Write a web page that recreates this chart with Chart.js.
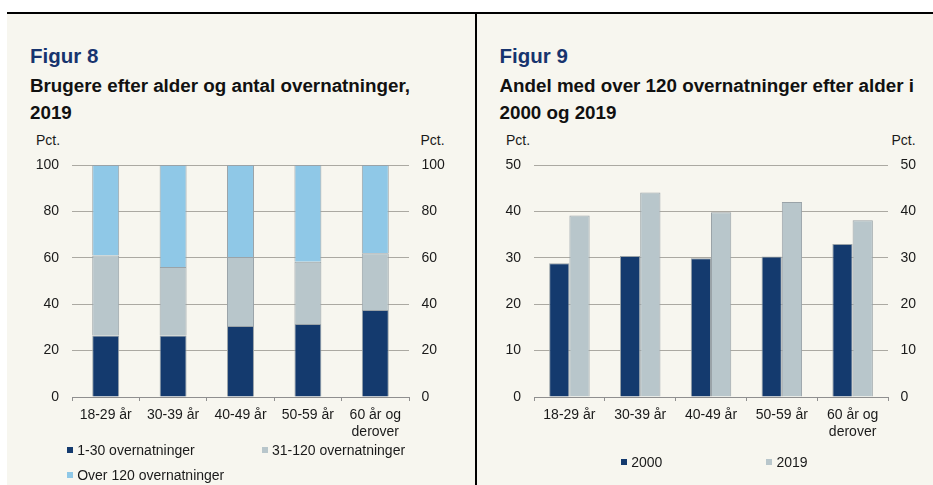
<!DOCTYPE html>
<html lang="da">
<head>
<meta charset="utf-8">
<title>Figur 8 og 9</title>
<script src="https://cdn.jsdelivr.net/npm/chart.js@4.4.1/dist/chart.umd.min.js"></script>
<style>
    body {
        margin: 0;
        width: 933px;
        height: 485px;
        position: relative;
        overflow: hidden;
        background: #ffffff;
        font-family: "Liberation Sans", Arial, sans-serif;
        color: #1a1a1a;
    }
    .panel { position: absolute; left: 7px; top: 14px; right: 0; bottom: 0; background: #f7f6ef; }
    .topline { position: absolute; left: 7px; top: 12px; right: 0; height: 2px; background: #000; }
    .divider { position: absolute; left: 475px; top: 12px; bottom: 0; width: 2px; background: #000; }
    .fig { position: absolute; top: 46px; font-size: 20.5px; line-height: 20px; font-weight: bold; color: #17346e; white-space: nowrap; }
    .title { position: absolute; top: 72.2px; font-size: 18.8px; line-height: 27px; font-weight: bold; color: #111; white-space: nowrap; }
    .unit { position: absolute; top: 133.2px; font-size: 14px; line-height: 14px; }
    .chartbox { position: absolute; top: 150px; width: 450px; height: 300px; }
    .legend-item { position: absolute; font-size: 14px; line-height: 16px; white-space: nowrap; }
    .legend-item span { position: absolute; width: 6px; height: 6px; }
</style>
</head>
<body>
<div class="panel"></div>
<div class="topline"></div>
<div class="divider"></div>

<div class="fig" style="left:30px">Figur 8</div>
<div class="title" style="left:30px">Brugere efter alder og antal overnatninger,<br>2019</div>
<div class="unit" style="left:36px">Pct.</div>
<div class="unit" style="left:420.5px">Pct.</div>
<div class="chartbox" style="left:20px"><canvas id="chart8"></canvas></div>

<div class="fig" style="left:499.5px">Figur 9</div>
<div class="title" style="left:499.5px">Andel med over 120 overnatninger efter alder i<br>2000 og 2019</div>
<div class="unit" style="left:506px">Pct.</div>
<div class="unit" style="left:891.5px">Pct.</div>
<div class="chartbox" style="left:480px"><canvas id="chart9"></canvas></div>

<div id="legends"></div>

<script>
// =======================
// Data
// =======================
const ageLabels = ["18-29 år", "30-39 år", "40-49 år", "50-59 år", ["60 år og", "derover"]];

// Figur 8 - share of users by number of nights, 2019
const nights1to30 = [26.5, 26.5, 30.6, 31.5, 37.5];
const nights31to120 = [34.5, 29.5, 29.7, 26.8, 24.5];
const nightsOver120 = [39.0, 44.0, 39.7, 41.7, 38.0];

// Figur 9 - share with more than 120 nights
const share2000 = [28.8, 30.4, 29.9, 30.3, 33.0];
const share2019 = [39.1, 44.1, 39.8, 42.0, 38.1];

const fig8Ticks = [0, 20, 40, 60, 80, 100];
const fig9Ticks = [0, 10, 20, 30, 40, 50];

const navy = "#143a6e";
const grey = "#b8c6cb";
const lightBlue = "#8fc8e7";
const gridColor = "#aba9a2";
const edgeColor = "#9aa3a8";

Chart.defaults.font.family = "'Liberation Sans', Arial, sans-serif";
Chart.defaults.font.size = 14;
Chart.defaults.color = "#1a1a1a";

// =======================
// Shared scale builder
// =======================
function buildScales(ticks, stacked, leftWidth, rightWidth) {
    const max = ticks[ticks.length - 1];
    const step = ticks[1] - ticks[0];
    // fixed widths + top padding so both panels line up with the picture
    const fixY = w => s => { s.width = w; s.paddingTop = 15; s.paddingBottom = 0; };
    return {
        x: {
            stacked: stacked,
            grid: { offset: true, drawOnChartArea: false, drawTicks: true, tickLength: 4, color: "#8f8f8f" },
            border: { color: "#8f8f8f" },
            ticks: { maxRotation: 0, autoSkip: false, padding: 6 },
            afterFit: s => { s.height = 53; }
        },
        y: {
            stacked: stacked,
            min: 0,
            max: max,
            grid: { color: gridColor, drawTicks: false },
            border: { display: false },
            ticks: { stepSize: step, padding: 13 },
            afterFit: fixY(leftWidth)
        },
        y2: {
            display: true,
            position: "right",
            min: 0,
            max: max,
            grid: { display: false, drawTicks: false },
            border: { display: false },
            ticks: { stepSize: step, padding: 12.5 },
            afterFit: fixY(rightWidth)
        }
    };
}

// =======================
// Figur 8
// =======================
const fig8Sets = [
    { label: "1-30 overnatninger", data: nights1to30, backgroundColor: navy },
    { label: "31-120 overnatninger", data: nights31to120, backgroundColor: grey },
    { label: "Over 120 overnatninger", data: nightsOver120, backgroundColor: lightBlue }
];

new Chart(document.getElementById("chart8"), {
    type: "bar",
    data: {
        labels: ageLabels,
        datasets: fig8Sets.map(d => ({
            ...d,
            borderColor: edgeColor,
            borderWidth: 1,
            categoryPercentage: 1,
            barPercentage: 0.4
        }))
    },
    options: {
        responsive: true,
        maintainAspectRatio: false,
        animation: false,
        layout: { padding: { top: 15, left: 0, right: 0, bottom: 0 } },
        plugins: { legend: { display: false }, tooltip: { enabled: false } },
        scales: buildScales(fig8Ticks, true, 52, 61)
    }
});

// =======================
// Figur 9
// =======================
const fig9Sets = [
    { label: "2000", data: share2000, backgroundColor: navy },
    { label: "2019", data: share2019, backgroundColor: grey }
];

new Chart(document.getElementById("chart9"), {
    type: "bar",
    data: {
        labels: ageLabels,
        datasets: fig9Sets.map(d => ({
            ...d,
            borderColor: edgeColor,
            borderWidth: 1,
            categoryPercentage: 0.572,
            barPercentage: 1
        }))
    },
    options: {
        responsive: true,
        maintainAspectRatio: false,
        animation: false,
        layout: { padding: { top: 15, left: 0, right: 0, bottom: 0 } },
        plugins: { legend: { display: false }, tooltip: { enabled: false } },
        scales: buildScales(fig9Ticks, false, 54, 42)
    }
});

// =======================
// Legends (HTML, under each chart)
// =======================
const legendSpots = [
    { set: fig8Sets[0], x: 66.7, y: 450 },
    { set: fig8Sets[1], x: 261.5, y: 450 },
    { set: fig8Sets[2], x: 66.7, y: 475 },
    { set: fig9Sets[0], x: 620.7, y: 462.3 },
    { set: fig9Sets[1], x: 766, y: 462.3 }
];

const legendBox = document.getElementById("legends");
legendSpots.forEach(spot => {
    const item = document.createElement("div");
    item.className = "legend-item";
    item.style.left = (spot.x + 10.5) + "px";
    item.style.top = (spot.y - 8) + "px";
    item.innerHTML = `<span style="left:-10.5px;top:5px;background:${spot.set.backgroundColor}"></span>${spot.set.label}`;
    legendBox.appendChild(item);
});
</script>
</body>
</html>
